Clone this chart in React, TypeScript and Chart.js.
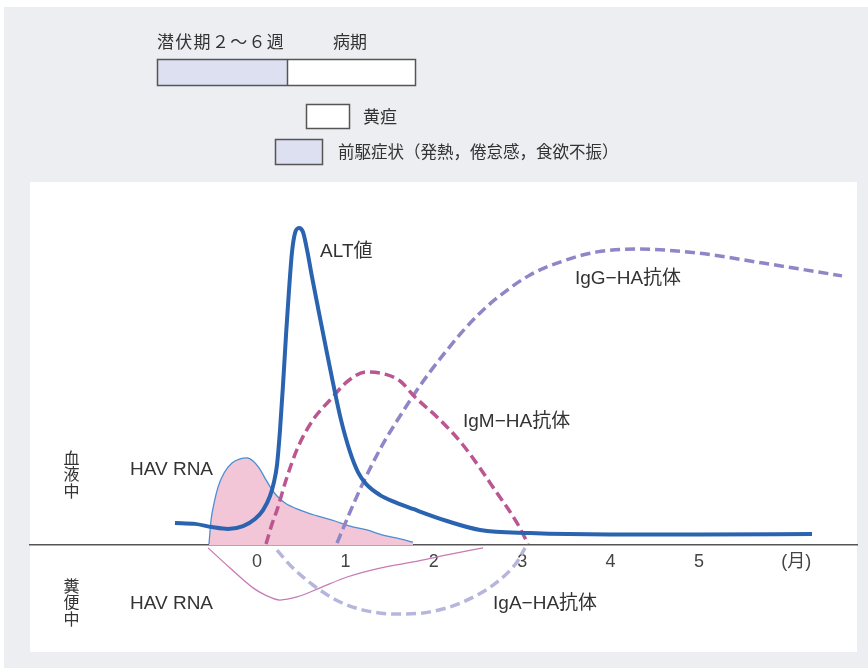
import { useEffect, useRef } from 'react';
import { Chart, registerables } from 'chart.js';

Chart.register(...registerables);

// ---- axis ticks (months) ----
const monthTicks = [0, 1, 2, 3, 4, 5, 6.1];
const monthLabels = ['0', '1', '2', '3', '4', '5', '(月)'];

// ---- blood: ALT ----
const altMonths = [-0.928, -0.701, -0.509, -0.328, -0.158, -0.023, 0.068, 0.147, 0.192, 0.226, 0.26, 0.294, 0.328, 0.362, 0.396, 0.43, 0.475, 0.52, 0.566, 0.622, 0.69, 0.769, 0.86, 0.95, 1.052, 1.142, 1.233, 1.391, 1.561, 1.765, 2.149, 2.523, 3.088, 3.993, 5.011, 6.278];
const altLevel = [6.9, 6.6, 5.6, 5.0, 5.9, 8.1, 10.9, 15.3, 19.7, 25.0, 35.9, 50.0, 65.6, 79.7, 91.6, 97.5, 99.1, 97.8, 92.2, 83.8, 74.1, 63.1, 50.6, 39.1, 29.1, 22.8, 19.1, 15.6, 13.4, 11.25, 7.5, 4.7, 3.75, 3.3, 3.3, 3.4];

// ---- blood: IgM-HA antibody ----
const igmMonths = [0.102, 0.17, 0.226, 0.339, 0.464, 0.633, 0.826, 1.029, 1.244, 1.448, 1.618, 1.787, 2.07, 2.33, 2.715, 2.941, 3.066];
const igmLevel = [0.3, 6.6, 10.9, 21.25, 30.6, 39.1, 45.3, 51.25, 54.1, 53.4, 51.25, 46.25, 39.1, 31.25, 16.25, 6.9, 0.3];

// ---- blood: IgG-HA antibody ----
const iggMonths = [0.905, 1.052, 1.199, 1.425, 1.618, 1.787, 1.957, 2.149, 2.33, 2.523, 2.715, 3.088, 3.462, 3.846, 4.299, 4.977, 5.724, 6.618];
const iggLevel = [0.6, 10.3, 19.4, 31.6, 40.3, 47.5, 54.1, 60.9, 66.9, 72.5, 77.2, 84.4, 88.75, 91.6, 92.5, 91.25, 88.1, 84.1];

// ---- blood: HAV RNA ----
const bloodRnaMonths = [-0.543, -0.52, -0.486, -0.441, -0.373, -0.283, -0.192, -0.113, -0.045, 0.023, 0.09, 0.158, 0.226, 0.317, 0.486, 0.679, 0.882, 1.052, 1.244, 1.425, 1.618, 1.765];
const bloodRnaLevel = [0.3, 7.8, 13.1, 18.1, 22.5, 25.6, 26.9, 27.2, 26.25, 24.1, 20.9, 17.8, 15.3, 13.1, 10.9, 9.1, 7.5, 5.9, 4.7, 3.1, 1.9, 0.9];

// ---- stool: IgA-HA antibody (drawn below the axis) ----
const igaMonths = [0.226, 0.373, 0.633, 0.939, 1.244, 1.584, 1.957, 2.33, 2.715, 2.941, 3.032];
const igaLevel = [-1.6, -6.25, -12.5, -17.8, -20.6, -21.6, -20.9, -17.8, -11.6, -5.3, -0.9];

// ---- stool: HAV RNA ----
const stoolRnaMonths = [-0.554, -0.305, -0.045, 0.09, 0.26, 0.452, 0.713, 1.018, 1.391, 1.765, 2.149, 2.557];
const stoolRnaLevel = [-0.9, -7.2, -13.4, -15.6, -17.2, -16.25, -13.4, -10.0, -7.2, -5.3, -3.1, -0.9];

const W = 868;
const H = 668;
const LATIN = '"Liberation Sans", "Noto Sans CJK JP", sans-serif';
const CJK = '"Noto Sans CJK JP", "Liberation Sans", sans-serif';
const TEXT = '#333';
const LAVENDER = '#dde0f0';

const pts = (xs: number[], ys: number[]) => xs.map((x, i) => ({ x, y: ys[i] }));

// chart annotations anchored in data coordinates
const curveLabels = [
  { text: 'ALT値', x: 0.713, y: 91.6 },
  { text: 'IgG−HA抗体', x: 3.597, y: 83.1 },
  { text: 'IgM−HA抗体', x: 2.33, y: 38.4 },
  { text: 'HAV RNA', x: -1.437, y: 23.4 },
  { text: 'HAV RNA', x: -1.437, y: -18.3 },
  { text: 'IgA−HA抗体', x: 2.67, y: -18.4 },
];
const sideLabels = [
  { text: '血液中', x: -2.098, y: 22.2 },
  { text: '糞便中', x: -2.098, y: -17.8 },
];

const decorPlugin = {
  id: 'decor',
  beforeDraw(chart: any) {
    const ctx = chart.ctx as CanvasRenderingContext2D;
    const a = chart.chartArea;
    ctx.save();
    ctx.fillStyle = '#ffffff';
    ctx.fillRect(0, 0, W, H);
    ctx.fillStyle = '#eceef2';
    ctx.fillRect(4, 7, W - 4, H - 7);
    ctx.fillStyle = '#ffffff';
    ctx.fillRect(a.left, a.top, a.right - a.left, a.bottom - a.top);

    // period bar
    ctx.fillStyle = LAVENDER;
    ctx.fillRect(157.5, 59.5, 130, 26);
    ctx.fillStyle = '#ffffff';
    ctx.fillRect(287.5, 59.5, 128, 26);
    ctx.strokeStyle = '#555';
    ctx.lineWidth = 1.5;
    ctx.strokeRect(157.5, 59.5, 258, 26);
    ctx.beginPath();
    ctx.moveTo(287.5, 59.5);
    ctx.lineTo(287.5, 85.5);
    ctx.stroke();

    // legend boxes
    ctx.fillStyle = '#ffffff';
    ctx.fillRect(306.5, 104.5, 43, 24);
    ctx.strokeRect(306.5, 104.5, 43, 24);
    ctx.fillStyle = LAVENDER;
    ctx.fillRect(275.5, 139.5, 47, 25);
    ctx.strokeRect(275.5, 139.5, 47, 25);

    ctx.fillStyle = TEXT;
    ctx.textBaseline = 'middle';
    ctx.textAlign = 'left';
    ctx.font = '17px ' + CJK;
    (ctx as any).letterSpacing = '1.3px';
    ctx.fillText('潜伏期２～６週', 157, 42);
    (ctx as any).letterSpacing = '0px';
    ctx.fillText('病期', 333, 42);
    ctx.fillText('黄疸', 363, 117);
    ctx.font = '16.5px ' + CJK;
    ctx.fillText('前駆症状（発熱，倦怠感，食欲不振）', 338, 152);
    ctx.restore();
  },
  afterDraw(chart: any) {
    const ctx = chart.ctx as CanvasRenderingContext2D;
    const xs = chart.scales.x;
    const ys = chart.scales.y;
    ctx.save();
    ctx.fillStyle = TEXT;
    ctx.textBaseline = 'middle';
    ctx.textAlign = 'left';
    ctx.font = '19px ' + LATIN;
    curveLabels.forEach((l) => {
      ctx.fillText(l.text, xs.getPixelForValue(l.x), ys.getPixelForValue(l.y));
    });
    ctx.font = '16px ' + CJK;
    ctx.textAlign = 'center';
    sideLabels.forEach((l) => {
      const cx = xs.getPixelForValue(l.x);
      const cy = ys.getPixelForValue(l.y);
      [...l.text].forEach((ch, i) => {
        ctx.fillText(ch, cx, cy + (i - 1) * 16.5);
      });
    });
    ctx.restore();
  },
};

export default function App() {
  const ref = useRef<HTMLCanvasElement>(null);
  useEffect(() => {
    const line = (data: any, color: string, width: number, dash: number[] = []) => ({
      data,
      borderColor: color,
      borderWidth: width,
      borderDash: dash,
      pointRadius: 0,
      fill: false,
      cubicInterpolationMode: 'monotone' as const,
    });
    const chart = new Chart(ref.current!, {
      type: 'line',
      data: {
        datasets: [
          line(pts(altMonths, altLevel), '#2a63b0', 4),
          line(pts(igmMonths, igmLevel), '#bb5690', 3.5, [10, 5]),
          line(pts(iggMonths, iggLevel), '#8e86c6', 3.5, [10, 5]),
          line(pts(igaMonths, igaLevel), '#b6b6dc', 3.5, [10, 5]),
          line(pts(stoolRnaMonths, stoolRnaLevel), '#c77bb5', 1.3),
          {
            ...line(pts(bloodRnaMonths, bloodRnaLevel), '#4b8ed2', 1.3),
            fill: 'origin',
            backgroundColor: '#f2c6d6',
          },
        ],
      },
      options: {
        animation: false,
        responsive: false,
        events: [],
        layout: { padding: { left: 30, right: 11, top: 182, bottom: 16 } },
        plugins: { legend: { display: false }, tooltip: { enabled: false } },
        scales: {
          x: {
            type: 'linear',
            position: { y: 0 } as any,
            min: -2.568,
            max: 6.787,
            afterBuildTicks: (s: any) => {
              s.ticks = monthTicks.map((v) => ({ value: v }));
            },
            afterFit: (s: any) => {
              s.height = 0;
            },
            grid: { display: false, drawTicks: false },
            border: { display: true, color: '#555', width: 1.5 },
            ticks: {
              padding: 6,
              color: '#444',
              font: { size: 18, family: LATIN },
              maxRotation: 0,
              autoSkip: false,
              callback: (v: any) => {
                const i = monthTicks.indexOf(Number(v));
                return i >= 0 ? monthLabels[i] : '';
              },
            },
          },
          y: {
            type: 'linear',
            display: false,
            min: -33.44,
            max: 113.44,
          },
        },
      },
      plugins: [decorPlugin],
    });
    return () => chart.destroy();
  }, []);
  return (
    <div style={{ position: 'absolute', left: 0, top: 0, width: W, height: H }}>
      <canvas ref={ref} width={W} height={H} style={{ display: 'block', width: W, height: H }} />
    </div>
  );
}
